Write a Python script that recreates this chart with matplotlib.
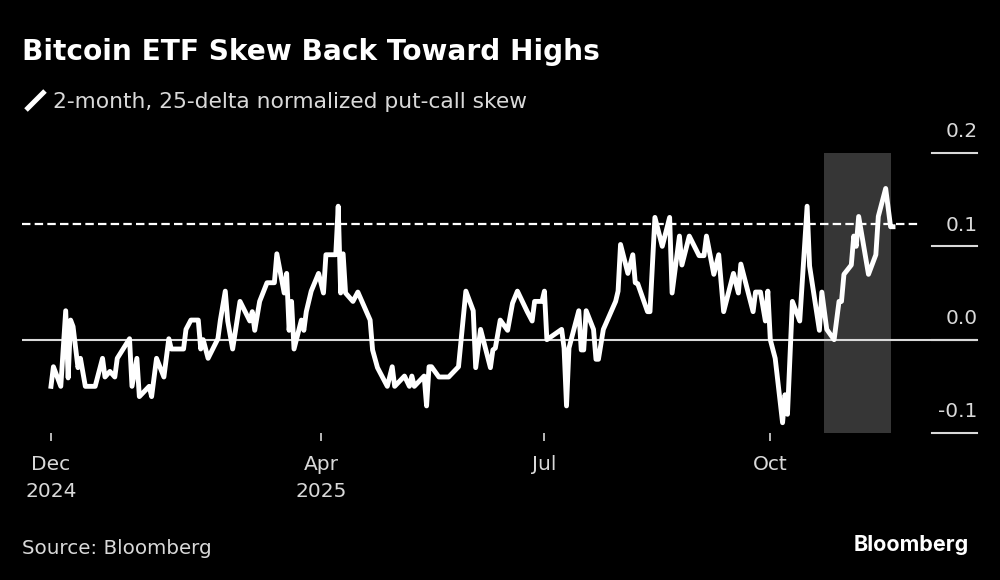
import matplotlib
matplotlib.use('Agg')
import matplotlib.pyplot as plt
import matplotlib.dates as mdates
from matplotlib.lines import Line2D
import pandas as pd

start = pd.Timestamp('2024-12-12')

# days since start
days = [0, 1, 4, 6, 7, 8, 9, 11, 12, 14, 18, 21, 22, 24, 26, 27, 32, 33, 35, 36, 40, 41, 43, 46, 48, 49,
        54, 55, 57, 60, 61, 62, 64, 68, 69, 71, 72, 74, 77, 81, 82, 83, 85, 88, 91, 92, 95, 96, 97, 98, 99,
        102, 103, 104, 106, 109, 111, 112, 116, 117, 118, 119, 120, 123, 125, 127, 130, 131, 133, 137, 139,
        140, 144, 146, 147, 148, 152, 153, 154, 155, 158, 162, 166, 169, 172, 173, 175, 179, 180, 181, 183,
        186, 188, 190, 192, 194, 196, 197, 200, 201, 202, 208, 209, 210, 211, 215, 216, 217, 218, 221, 222,
        223, 225, 230, 231, 232, 235, 237, 238, 239, 243, 244, 246, 249, 252, 253, 256, 257, 260, 264, 266,
        267, 270, 272, 274, 278, 280, 281, 286, 287, 289, 291, 292, 293, 295, 298, 299, 300, 302, 305, 308,
        309, 313, 314, 316, 319, 321, 322, 323, 326, 327, 328, 329, 333, 336, 337, 340, 342, 343]
skew = [-.050, -.029, -.050, .031, -.041, .021, .014, -.030, -.020, -.050, -.050, -.020, -.040, -.034, -.040,
        -.020, .001, -.050, -.020, -.061, -.050, -.061, -.020, -.040, .001, -.010,
        -.010, .011, .021, .021, -.010, 0, -.020, .001, .021, .052, .020, -.010, .041, .020, .030, .010, .041,
        .061, .061, .092, .050, .071, .010, .041, -.010,
        .021, .010, .030, .052, .071, .050, .091, .091, .143, .050, .092, .050, .041, .051, .039, .021, -.011,
        -.030, -.050, -.029,
        -.050, -.039, -.050, -.039, -.050, -.039, -.071, -.029, -.029, -.040, -.040, -.029, .052, .031, -.030,
        .011, -.030, -.011, -.009, .021,
        .010, .039, .052, .041, .030, .020, .041, .041, .052, 0, .011, -.009, -.071, -.009, .031, -.011, -.011,
        .031, .011, -.021,
        -.021, .011, .041, .052, .102, .071, .091, .061, .060, .030, .030, .131, .100, .131, .050, .111, .080,
        .111, .090, .090,
        .111, .070, .091, .030, .071, .050, .081, .030, .051, .051, .020, .052, 0, -.020, -.089, -.059, -.080,
        .041, .020, .143,
        .079, .010, .051, .011, 0, .041, .041, .070, .080, .111, .100, .132, .070, .091, .132, .162, .121, .121]

tick_dates = ['2024-12-12', '2025-04-01', '2025-07-01', '2025-10-01']
tick_labels = ['Dec\n2024', 'Apr\n2025', 'Jul', 'Oct']
ytick_vals = [0.2, 0.1, 0.0, -0.1]
ytick_labels = ['0.2', '0.1', '0.0', '-0.1']
high_level = 0.124
shade_from, shade_to = '2025-10-23', '2025-11-19'

dates = start + pd.to_timedelta(days, unit='D')

BG = 'black'
GREY = '#d9d9d9'
plt.rcParams['font.family'] = ['DejaVu Sans']

fig = plt.figure(figsize=(10, 5.8), dpi=100, facecolor=BG)
ax = fig.add_axes([22/1000, 147/580, 955/1000, 280/580], facecolor=BG)
ax.set_ylim(-0.1, 0.2)
ax.set_xlim(start - pd.Timedelta(days=11.8), start + pd.Timedelta(days=377.2))
for s in ax.spines.values():
    s.set_visible(False)

ax.axvspan(pd.Timestamp(shade_from), pd.Timestamp(shade_to), color='#363636', lw=0, zorder=1)
ax.axhline(0, color=GREY, lw=1.5, zorder=2)
ax.hlines(high_level, ax.get_xlim()[0], mdates.date2num(start + pd.Timedelta(days=354)),
          color='white', lw=1.6, linestyles=(0, (3.8, 1.9)), zorder=3)
ax.plot(dates, skew, color='white', lw=3.5, solid_joinstyle='round', zorder=4)

# short rules on the right with the value sitting on top
trans = ax.get_yaxis_transform()
for v, lbl in zip(ytick_vals, ytick_labels):
    ax.plot([0.953, 1], [v, v], color=GREY, lw=1.5, transform=trans, clip_on=False, zorder=2)
    ax.annotate(lbl, xy=(1, v), xycoords=trans, xytext=(0.5, 8.5), textcoords='offset points',
                ha='right', va='bottom', color=GREY, fontsize=14.5)

ax.set_yticks([])
ax.set_xticks(pd.to_datetime(tick_dates))
ax.set_xticklabels(tick_labels, color=GREY, fontsize=14.5, linespacing=1.55)
ax.tick_params(axis='x', color=GREY, length=6, width=1.2, pad=10)

fig.text(22/1000, 1 - 60/580, 'Bitcoin ETF Skew Back Toward Highs', color='white',
         fontsize=20.2, fontweight='bold', ha='left', va='baseline')
fig.text(53/1000, 1 - 108/580, '2-month, 25-delta normalized put-call skew', color=GREY,
         fontsize=15.65, ha='left', va='baseline')
fig.add_artist(Line2D([26/1000, 45/1000], [1 - 110/580, 1 - 91/580], color='white', lw=3.6,
                      solid_capstyle='butt', transform=fig.transFigure))
fig.text(22/1000, 1 - 554/580, 'Source: Bloomberg', color=GREY, fontsize=14.3, ha='left', va='baseline')
fig.text(969/1000, 1 - 551/580, 'Bloomberg', color='white', fontsize=15.5, fontweight='bold',
         family='Inter', ha='right', va='baseline')

fig.savefig('out.png', dpi=100, facecolor=BG)
